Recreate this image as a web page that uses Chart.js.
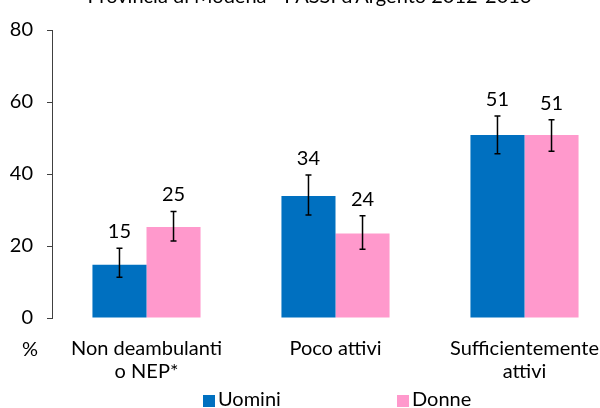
<!DOCTYPE html>
<html>
<head>
<meta charset="utf-8">
<script src="https://cdn.jsdelivr.net/npm/chart.js@4"></script>
<style>
    body { margin: 0; overflow: hidden; background: #fff; }
    .wrap { position: relative; width: 620px; height: 408px; }
    .legend { position: absolute; top: 387px; left: 0; width: 600px; font: 20px Lato, sans-serif; color: #000; }
    .legend span { position: absolute; top: 0; line-height: 23px; }
    .legend i { display: inline-block; width: 12px; height: 12px; margin-right: 3px; vertical-align: -1px; }
</style>
</head>
<body>
<div class="wrap">
    <canvas id="myChart" width="620" height="408"></canvas>
    <div class="legend">
        <span style="left:203px"><i style="background:#0070C0"></i>Uomini</span>
        <span style="left:397px"><i style="background:#FF99CC"></i>Donne</span>
    </div>
</div>
<script>
const categories = [['Non deambulanti', 'o NEP*'], 'Poco attivi', ['Sufficientemente', 'attivi']];
const uomini = [14.8, 33.9, 50.8];
const donne = [25.3, 23.5, 50.8];
const uominiLow = [11.3, 28.6, 45.6];
const uominiHigh = [19.4, 39.7, 56.1];
const donneLow = [21.4, 19.1, 46.3];
const donneHigh = [29.6, 28.4, 55.1];
const yTicks = [0, 20, 40, 60, 80];

const lows = [uominiLow, donneLow];
const highs = [uominiHigh, donneHigh];
const font = { family: 'Lato', size: 20 };

// error bars, value labels and the "%" unit
const extras = {
    id: 'extras',
    afterDatasetsDraw(chart) {
        const ctx = chart.ctx;
        const y = chart.scales.y;
        ctx.save();
        chart.data.datasets.forEach((ds, d) => {
            const meta = chart.getDatasetMeta(d);
            meta.data.forEach((bar, i) => {
                const top = y.getPixelForValue(highs[d][i]);
                const bottom = y.getPixelForValue(lows[d][i]);
                ctx.strokeStyle = '#000';
                ctx.lineWidth = 1.5;
                ctx.beginPath();
                ctx.moveTo(bar.x, top);
                ctx.lineTo(bar.x, bottom);
                ctx.moveTo(bar.x - 3, top);
                ctx.lineTo(bar.x + 3, top);
                ctx.moveTo(bar.x - 3, bottom);
                ctx.lineTo(bar.x + 3, bottom);
                ctx.stroke();

                ctx.fillStyle = '#000';
                ctx.font = '20px Lato';
                ctx.textAlign = 'center';
                ctx.textBaseline = 'alphabetic';
                ctx.fillText(Math.round(ds.data[i]), bar.x, top - 10);
            });
        });
        ctx.font = '20px Lato';
        ctx.textAlign = 'left';
        ctx.textBaseline = 'alphabetic';
        ctx.fillText('%', 22, 356);
        ctx.restore();
    }
};

new Chart('myChart', {
    type: 'bar',
    data: {
        labels: categories,
        datasets: [
            { label: 'Uomini', data: uomini, backgroundColor: '#0070C0' },
            { label: 'Donne', data: donne, backgroundColor: '#FF99CC' }
        ]
    },
    options: {
        responsive: false,
        animation: false,
        layout: { padding: { right: 1 } },
        datasets: { bar: { categoryPercentage: 0.572, barPercentage: 1 } },
        plugins: {
            legend: { display: false },
            tooltip: { enabled: false },
            title: {
                display: true,
                text: "Provincia di Modena - PASSI d'Argento 2012-2013",
                color: '#000',
                font: { family: 'Lato', size: 20, weight: 'normal' },
                padding: { top: -15, bottom: 21 }
            }
        },
        scales: {
            x: {
                afterFit: s => { s.height = 90; },
                grid: { display: false },
                border: { display: false },
                ticks: { color: '#000', font: { family: 'Lato', size: 20, lineHeight: 1.15 }, padding: 11, maxRotation: 0, autoSkip: false }
            },
            y: {
                min: 0,
                max: 80,
                afterBuildTicks: s => { s.ticks = yTicks.map(v => ({ value: v })); },
                afterFit: s => { s.width = 52; },
                grid: { drawOnChartArea: false, drawTicks: true, tickLength: 5, color: '#404040' },
                border: { display: true, color: '#404040', width: 1 },
                ticks: { color: '#000', font: font, padding: 14 }
            }
        }
    },
    plugins: [extras]
});
</script>
</body>
</html>
